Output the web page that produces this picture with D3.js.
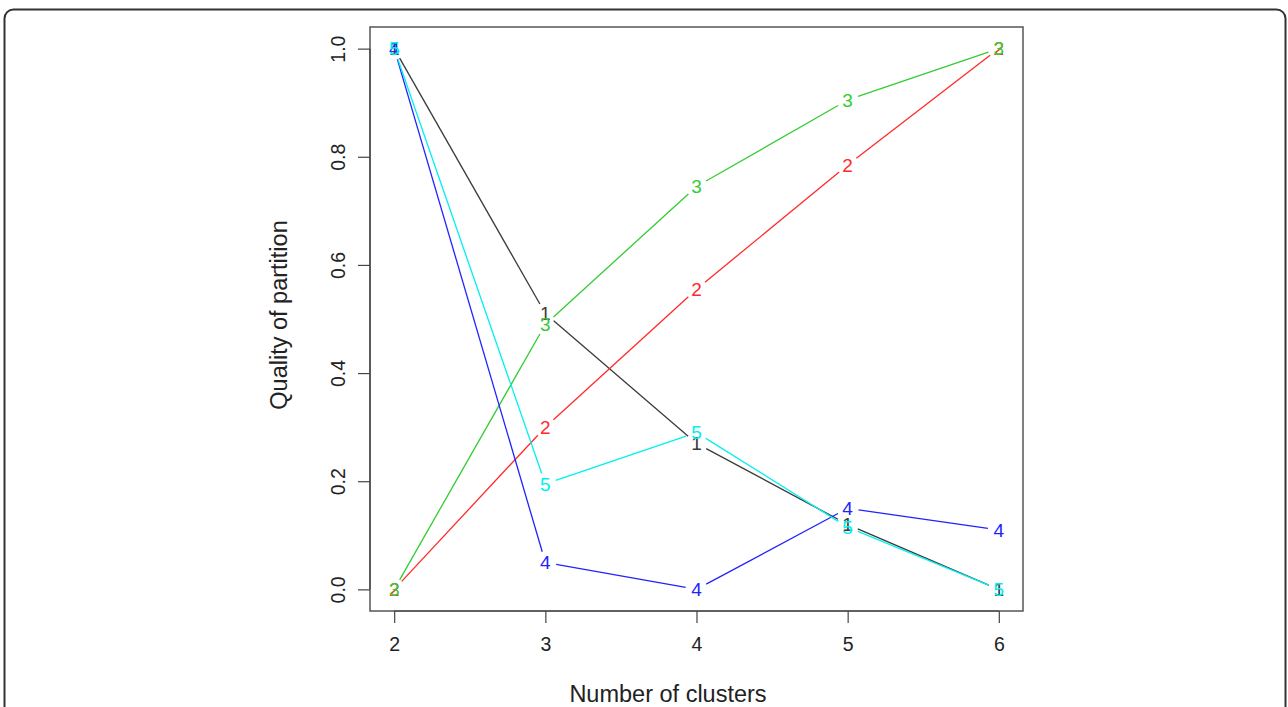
<!DOCTYPE html>
<html>
<head>
<meta charset="utf-8">
<script src="https://cdn.jsdelivr.net/npm/d3@7"></script>
<style>
  body { margin: 0; background: #fff; }
  text { font-family: "Liberation Sans", Arial, sans-serif; }
</style>
</head>
<body>
<div class="chart"></div>
<script>
// data
const clusters = [2, 3, 4, 5, 6];
const seriesNames = ['1', '2', '3', '4', '5'];
const series1 = [1.0, 0.51, 0.27, 0.12, 0.0];
const series2 = [0.0, 0.30, 0.555, 0.785, 1.0];
const series3 = [0.0, 0.49, 0.745, 0.905, 1.0];
const series4 = [1.0, 0.05, 0.0, 0.15, 0.11];
const series5 = [1.0, 0.195, 0.29, 0.115, 0.0];
const seriesColors = ['#3a3a3a', '#ff2a2a', '#33cc33', '#2222ff', '#00f0f0'];
const yTicks = [0.0, 0.2, 0.4, 0.6, 0.8, 1.0];

const allSeries = [series1, series2, series3, series4, series5];

const width = 1288, height = 707;
const box = { left: 370, top: 27, right: 1023, bottom: 611 };

const svg = d3.select('.chart').append('svg')
    .attr('width', width).attr('height', height);

// outer frame
svg.append('rect')
    .attr('x', 4.5).attr('y', 9.5)
    .attr('width', 1281).attr('height', 720)
    .attr('rx', 9).attr('ry', 9)
    .style('fill', 'none').style('stroke', '#333').style('stroke-width', 2);

// R style scales: 4% padding on each side
const xScale = d3.scaleLinear().domain([1.84, 6.16]).range([box.left, box.right]);
const yScale = d3.scaleLinear().domain([-0.04, 1.04]).range([box.bottom, box.top]);

// plot box
svg.append('rect')
    .attr('x', box.left).attr('y', box.top)
    .attr('width', box.right - box.left).attr('height', box.bottom - box.top)
    .style('fill', 'none').style('stroke', '#555').style('stroke-width', 1.5);

// axes
const xAxis = d3.axisBottom(xScale).tickValues(clusters).tickFormat(d3.format('d'))
    .tickSize(12).tickPadding(14);
const xAxisDraw = svg.append('g').attr('transform', `translate(0,${box.bottom})`).call(xAxis);
xAxisDraw.select('.domain').attr('d', `M${xScale(2)},0H${xScale(6)}`);

const yAxis = d3.axisLeft(yScale).tickValues(yTicks).tickFormat(d3.format('.1f')).tickSize(12);
const yAxisDraw = svg.append('g').attr('transform', `translate(${box.left},0)`).call(yAxis);
yAxisDraw.select('.domain').attr('d', `M0,${yScale(0)}V${yScale(1)}`);
yAxisDraw.selectAll('.tick text')
    .attr('transform', 'rotate(-90) translate(0,-32)')
    .attr('x', 0).attr('dy', '0.35em')
    .style('text-anchor', 'middle');

[xAxisDraw, yAxisDraw].forEach(a => {
    a.selectAll('path, line').style('stroke', '#444').style('stroke-width', 1.2);
    a.selectAll('text').style('font-size', '19.5px').style('fill', '#222')
        .style('font-family', '"Liberation Sans", Arial, sans-serif');
});

// axis titles
svg.append('text')
    .attr('x', 668).attr('y', 702)
    .style('text-anchor', 'middle').style('font-size', '23.5px').style('fill', '#222')
    .text('Number of clusters');
svg.append('text')
    .attr('transform', `translate(287,315) rotate(-90)`)
    .style('text-anchor', 'middle').style('font-size', '23.5px').style('fill', '#222')
    .text('Quality of partition');

// lines with gaps at the points (type = "b")
const gap = 11;
allSeries.forEach((vals, s) => {
    const pts = clusters.map((c, i) => [xScale(c), yScale(vals[i])]);
    const segs = d3.pairs(pts).map(([a, b]) => {
        const dx = b[0] - a[0], dy = b[1] - a[1];
        const len = Math.hypot(dx, dy);
        const ux = dx / len, uy = dy / len;
        return [a[0] + ux * gap, a[1] + uy * gap, b[0] - ux * gap, b[1] - uy * gap];
    });
    const g = svg.append('g').attr('class', 'series-' + seriesNames[s]);
    g.selectAll('line').data(segs).enter().append('line')
        .attr('x1', d => d[0]).attr('y1', d => d[1])
        .attr('x2', d => d[2]).attr('y2', d => d[3])
        .style('stroke', seriesColors[s]).style('stroke-width', 1.3);
    g.selectAll('text').data(pts).enter().append('text')
        .attr('x', d => d[0]).attr('y', d => d[1])
        .attr('dy', '0.36em')
        .style('text-anchor', 'middle').style('font-size', '19px')
        .style('fill', seriesColors[s])
        .text(seriesNames[s]);
});
</script>
</body>
</html>
